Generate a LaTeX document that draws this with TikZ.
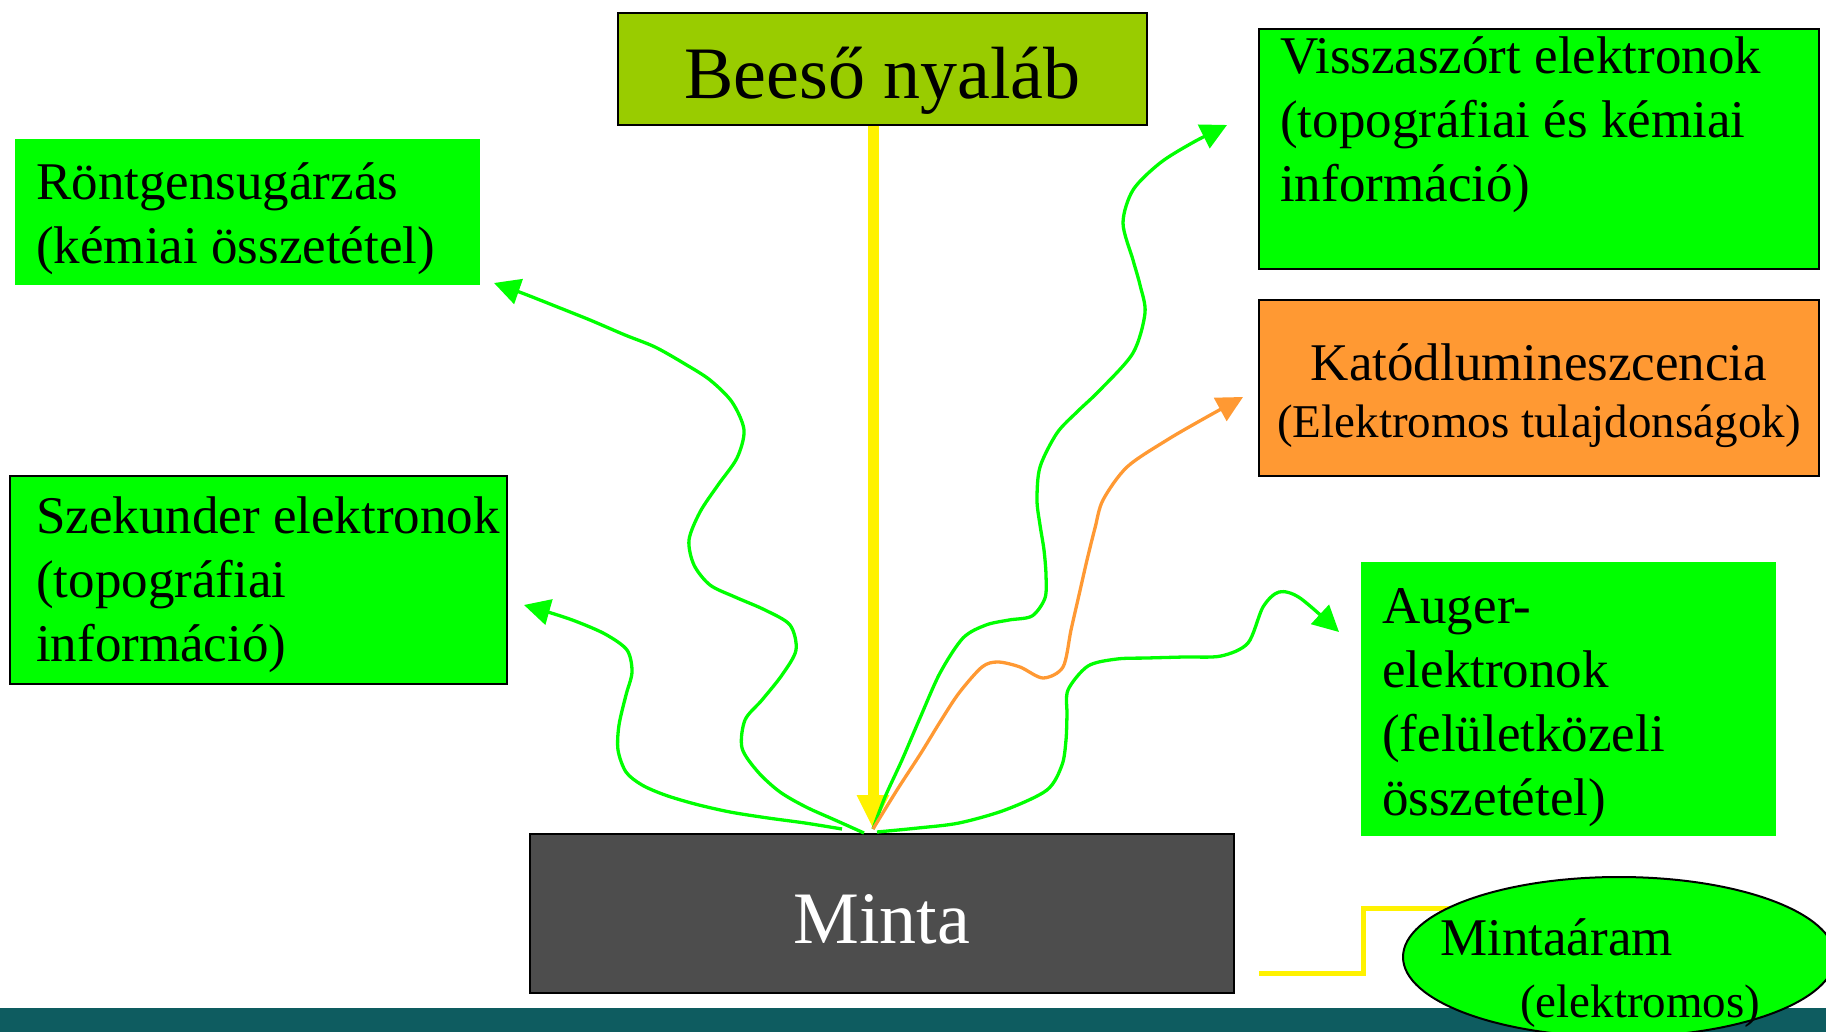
\documentclass[tikz,border=0pt]{standalone}
\usepackage{fontspec}
\setmainfont{Liberation Serif}
\usetikzlibrary{arrows.meta,shapes.geometric}
\definecolor{beamgreen}{HTML}{99CC00}
\definecolor{boxgreen}{HTML}{00FF00}
\definecolor{boxorange}{HTML}{FF9933}
\definecolor{sample}{HTML}{4D4D4D}
\definecolor{band}{RGB}{14,92,96}
\newcommand{\hugetxt}{\fontsize{74}{89}\selectfont}
\newcommand{\boxtxt}{\fontsize{53}{64}\selectfont}
\newcommand{\smalltxt}{\fontsize{47}{57}\selectfont}

\begin{document}
\begin{tikzpicture}[x=1pt, y=-1pt, >={Triangle[length=26pt, width=26pt]}]
	\tikzstyle{box} = [draw=black, line width=2pt, rectangle, inner sep=0pt]
	\tikzstyle{flat} = [rectangle, inner sep=0pt]
	\tikzstyle{txt} = [align=left, inner sep=0pt, anchor=base west, font=\boxtxt]
	\tikzstyle{wave} = [->, line width=3.3pt, line join=round]

	\useasboundingbox (0,0) rectangle (1826,1032);
	\fill[band] (0,1008) rectangle (1826,1032);

	% boxes
	\node[box, fill=beamgreen, minimum width=529pt, minimum height=112pt] (beam) at (882.5,69) {};
	\node[flat, fill=boxgreen, minimum width=465pt, minimum height=146pt] (xray) at (247.5,212) {};
	\node[box, fill=boxgreen, minimum width=497pt, minimum height=208pt] (sec) at (258.5,580) {};
	\node[box, fill=boxgreen, minimum width=560pt, minimum height=240pt] (bse) at (1539,149) {};
	\node[box, fill=boxorange, minimum width=560pt, minimum height=176pt] (cl) at (1539,388) {};
	\node[flat, fill=boxgreen, minimum width=415pt, minimum height=274pt] (auger) at (1568.5,699) {};
	\node[box, fill=sample, minimum width=704pt, minimum height=159pt] (minta) at (882,913.5) {};

	% texts (base = last line)
	\node[anchor=base, inner sep=0pt, font=\hugetxt] (beamtxt) at (882.5,99) {Beeső nyaláb};
	\node[anchor=base, inner sep=0pt, font=\hugetxt, text=white] (mintatxt) at (882,943) {Minta};
	\node[txt] (xraytxt) at (36,264) {Röntgensugárzás\\(kémiai összetétel)};
	\node[txt] (sectxt) at (36,661) {Szekunder elektronok\\(topográfiai\\információ)};
	\node[txt] (bsetxt) at (1280,202) {Visszaszórt elektronok\\(topográfiai és kémiai\\információ)};
	\node[anchor=base, inner sep=0pt, font=\boxtxt] (cltop) at (1539,380) {Katódlumineszcencia};
	\node[anchor=base, inner sep=0pt, font=\smalltxt] (clbot) at (1539,437) {(Elektromos tulajdonságok)};
	\node[txt] (augertxt) at (1382,815) {Auger-\\elektronok\\(felületközeli\\összetétel)};

	% sample current
	\coordinate (curend) at (1259,973);
	\coordinate (bend) at (1363,908);
	\coordinate (curin) at (1470,908);
	\draw[yellow, line width=5pt] (curend) -| (bend) -- (curin);
	\node[draw, line width=2pt, fill=boxgreen, ellipse, minimum width=432pt, minimum height=160pt, inner sep=0pt] (cur) at (1619,957) {};
	\node[txt] (curtxt1) at (1440,955) {Mintaáram};
	\node[txt, font=\smalltxt] (curtxt2) at (1520,1017) {(elektromos)};

	% incident beam
	\coordinate (hit) at (873,829);
	\draw[yellow, line width=11pt, -{Triangle[length=34pt, width=30pt]}] (beam.south -| hit) -- (hit);

	% emitted signals
	\coordinate (xraystart) at (864,833);
	\coordinate (secstart) at (842,829);
	\coordinate (augerstart) at (877,832);
	\coordinate (xraytip) at (494,283);
	\coordinate (sectip) at (524,605);
	\coordinate (bsetip) at (1227,125);
	\coordinate (cltip) at (1243,397);
	\coordinate (augertip) at (1339,632);
	\draw[wave, boxgreen] plot[smooth] coordinates {(xraystart) (835,820) (806,807) (780,792) (758,772) (742,748) (745,720) (762,700) (782,675) (796,650) (790,625) (765,610) (735,597) (710,585) (694,565) (689,540) (700,512) (718,485) (737,458) (744,430) (732,402) (710,380) (685,364) (655,347) (625,335) (590,320) (555,306) (522,293) (xraytip)};
	\draw[wave, boxgreen] plot[smooth] coordinates {(secstart) (805,823) (768,818) (730,812) (695,804) (665,795) (642,785) (626,772) (618,750) (619,725) (626,695) (632,672) (627,650) (605,634) (575,621) (548,612) (sectip)};
	\draw[wave, boxgreen] plot[smooth] coordinates {(hit) (885,797) (902,760) (920,718) (940,673) (963,638) (986,625) (1009,620) (1032,616) (1045,598) (1046,575) (1044,550) (1040,525) (1037,500) (1040,467) (1057,433) (1078,411) (1100,390) (1133,353) (1145,313) (1140,285) (1133,260) (1123,223) (1133,190) (1160,163) (1192,143) (bsetip)};
	\draw[wave, boxorange] plot[smooth] coordinates {(hit) (897,790) (921,753) (940,722) (959,693) (982,667) (998,662) (1020,667) (1043,678) (1063,667) (1071,630) (1079,595) (1087,560) (1095,528) (1103,500) (1127,467) (1167,440) (1205,418) (cltip)};
	\draw[wave, boxgreen] plot[smooth] coordinates {(augerstart) (918,828) (959,823) (1005,810) (1047,790) (1062,765) (1066,740) (1067,715) (1068,690) (1088,666) (1117,659) (1147,658) (1184,657) (1221,656) (1248,643) (1263,607) (1279,592) (1300,598) (augertip)};
\end{tikzpicture}
\end{document}
